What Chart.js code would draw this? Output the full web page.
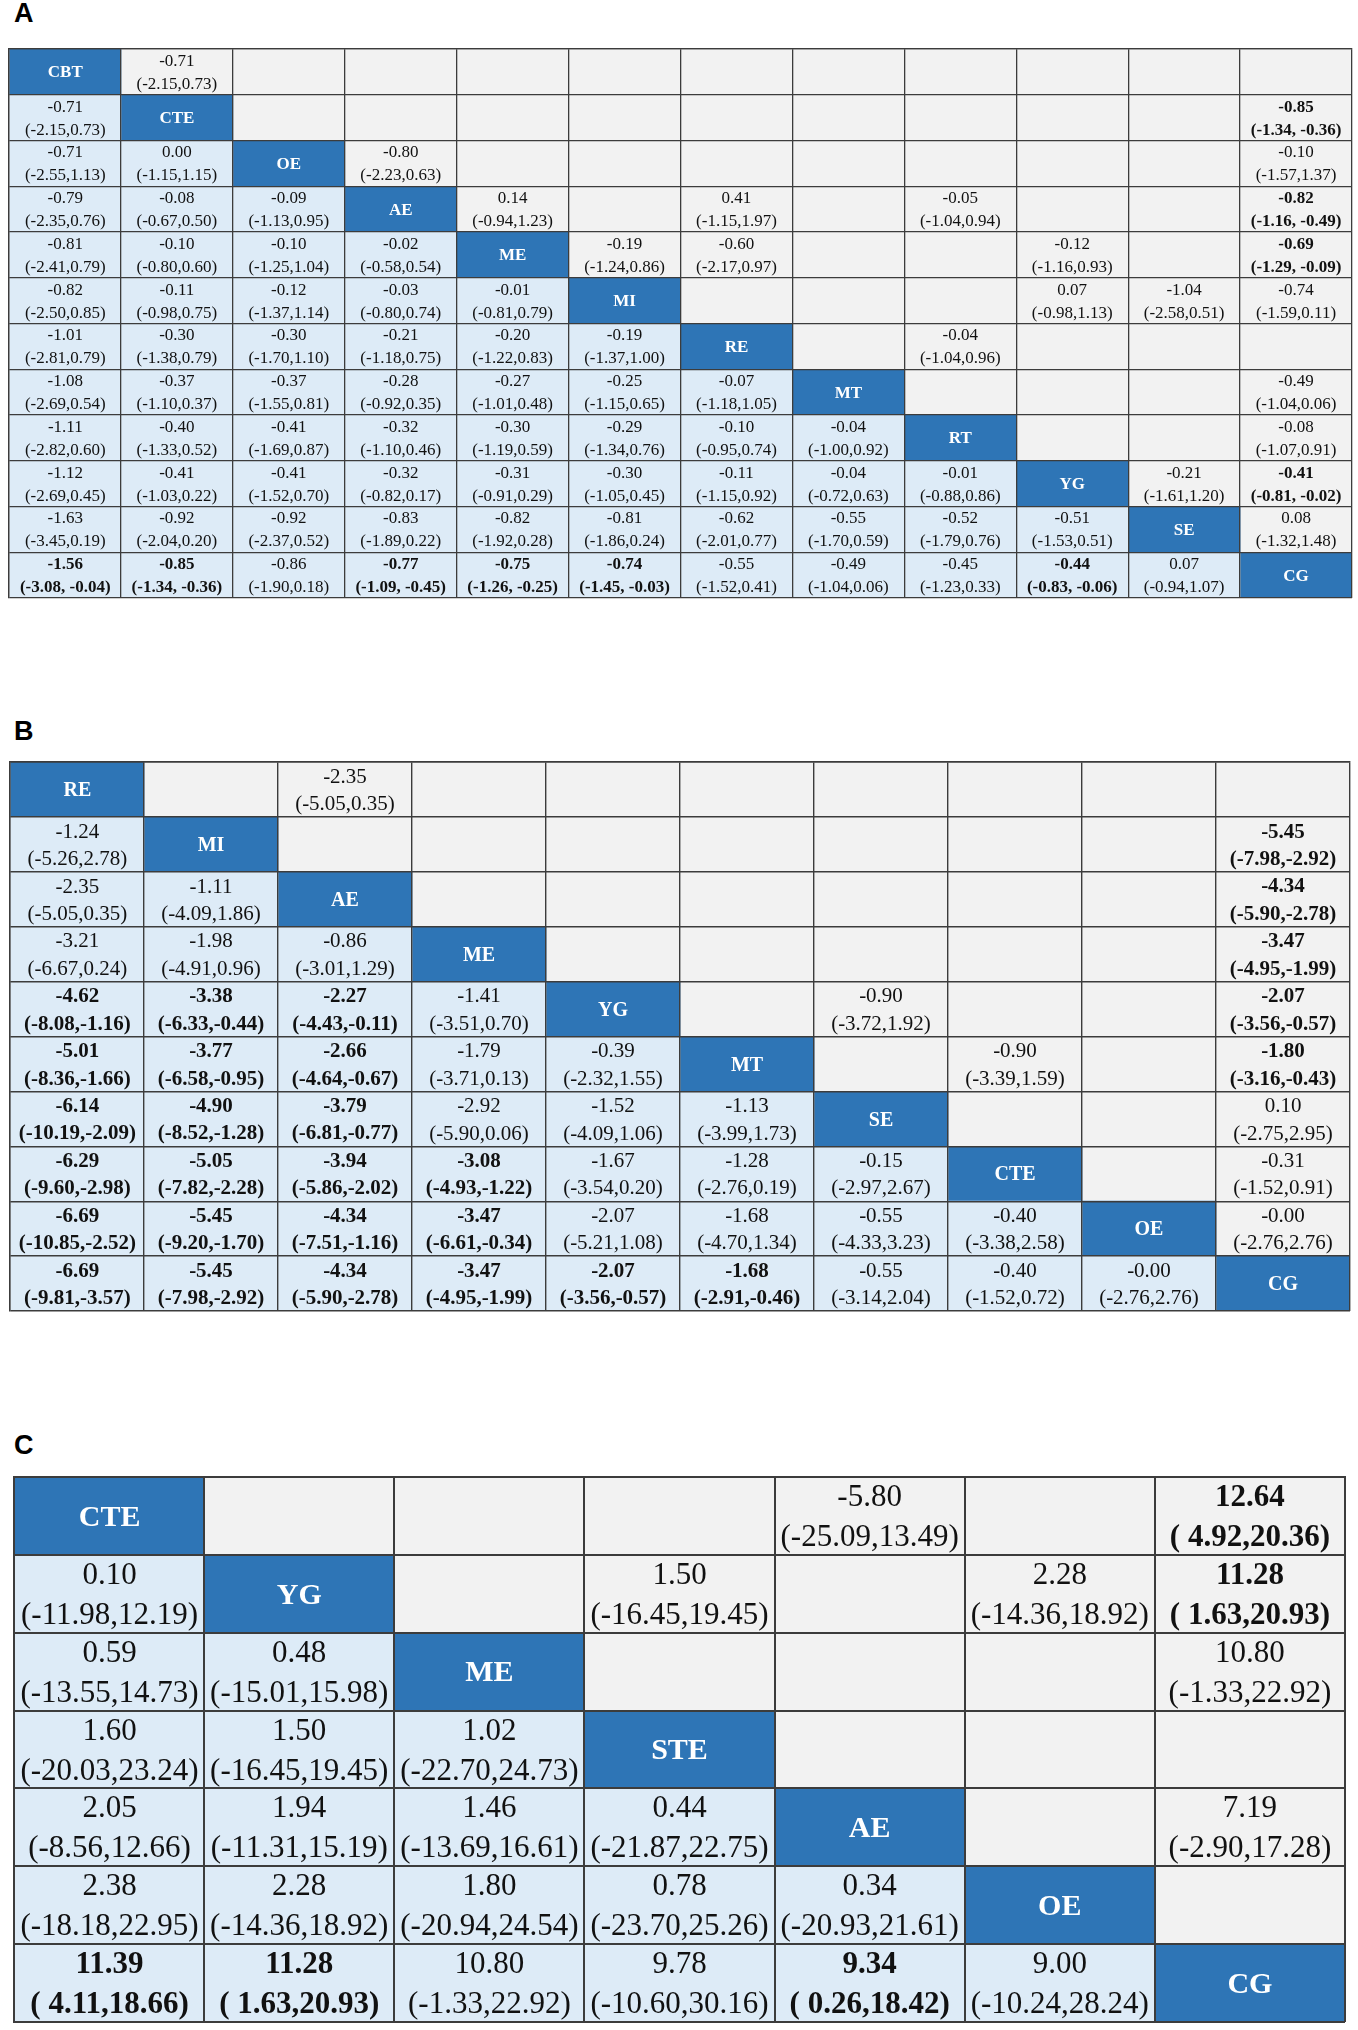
<!DOCTYPE html>
<html>
<head>
<meta charset="utf-8">
<script src="https://cdn.jsdelivr.net/npm/chart.js@4.4.1/dist/chart.umd.min.js"></script>
<style>
  html, body { margin: 0; padding: 0; background: #fff; }
  body { width: 1358px; height: 2030px; position: relative; overflow: hidden; }
  .tag { position: absolute; left: 14px; font: bold 27px "Liberation Sans", Arial, sans-serif; line-height: 27px; color: #000; }
  canvas { position: absolute; }
</style>
</head>
<body>
<div class="tag" style="top:0px">A</div>
<div class="tag" style="top:718px">B</div>
<div class="tag" style="top:1432px">C</div>
<canvas id="chartA" width="1351" height="557" style="left:5px;top:45px"></canvas>
<canvas id="chartB" width="1348" height="557" style="left:6px;top:758px"></canvas>
<canvas id="chartC" width="1339" height="553" style="left:10px;top:1473px"></canvas>
<script>
// "*" in front of an estimate = bold cell
const treatmentsA = ["CBT", "CTE", "OE", "AE", "ME", "MI", "RE", "MT", "RT", "YG", "SE", "CG"];
const lowerA = [
  [],
  [["-0.71", "(-2.15,0.73)"]],
  [["-0.71", "(-2.55,1.13)"], ["0.00", "(-1.15,1.15)"]],
  [["-0.79", "(-2.35,0.76)"], ["-0.08", "(-0.67,0.50)"], ["-0.09", "(-1.13,0.95)"]],
  [["-0.81", "(-2.41,0.79)"], ["-0.10", "(-0.80,0.60)"], ["-0.10", "(-1.25,1.04)"], ["-0.02", "(-0.58,0.54)"]],
  [["-0.82", "(-2.50,0.85)"], ["-0.11", "(-0.98,0.75)"], ["-0.12", "(-1.37,1.14)"], ["-0.03", "(-0.80,0.74)"], ["-0.01", "(-0.81,0.79)"]],
  [["-1.01", "(-2.81,0.79)"], ["-0.30", "(-1.38,0.79)"], ["-0.30", "(-1.70,1.10)"], ["-0.21", "(-1.18,0.75)"], ["-0.20", "(-1.22,0.83)"], ["-0.19", "(-1.37,1.00)"]],
  [["-1.08", "(-2.69,0.54)"], ["-0.37", "(-1.10,0.37)"], ["-0.37", "(-1.55,0.81)"], ["-0.28", "(-0.92,0.35)"], ["-0.27", "(-1.01,0.48)"], ["-0.25", "(-1.15,0.65)"], ["-0.07", "(-1.18,1.05)"]],
  [["-1.11", "(-2.82,0.60)"], ["-0.40", "(-1.33,0.52)"], ["-0.41", "(-1.69,0.87)"], ["-0.32", "(-1.10,0.46)"], ["-0.30", "(-1.19,0.59)"], ["-0.29", "(-1.34,0.76)"], ["-0.10", "(-0.95,0.74)"], ["-0.04", "(-1.00,0.92)"]],
  [["-1.12", "(-2.69,0.45)"], ["-0.41", "(-1.03,0.22)"], ["-0.41", "(-1.52,0.70)"], ["-0.32", "(-0.82,0.17)"], ["-0.31", "(-0.91,0.29)"], ["-0.30", "(-1.05,0.45)"], ["-0.11", "(-1.15,0.92)"], ["-0.04", "(-0.72,0.63)"], ["-0.01", "(-0.88,0.86)"]],
  [["-1.63", "(-3.45,0.19)"], ["-0.92", "(-2.04,0.20)"], ["-0.92", "(-2.37,0.52)"], ["-0.83", "(-1.89,0.22)"], ["-0.82", "(-1.92,0.28)"], ["-0.81", "(-1.86,0.24)"], ["-0.62", "(-2.01,0.77)"], ["-0.55", "(-1.70,0.59)"], ["-0.52", "(-1.79,0.76)"], ["-0.51", "(-1.53,0.51)"]],
  [["*-1.56", "(-3.08, -0.04)"], ["*-0.85", "(-1.34, -0.36)"], ["-0.86", "(-1.90,0.18)"], ["*-0.77", "(-1.09, -0.45)"], ["*-0.75", "(-1.26, -0.25)"], ["*-0.74", "(-1.45, -0.03)"], ["-0.55", "(-1.52,0.41)"], ["-0.49", "(-1.04,0.06)"], ["-0.45", "(-1.23,0.33)"], ["*-0.44", "(-0.83, -0.06)"], ["0.07", "(-0.94,1.07)"]],
];
// [row, col, estimate, interval]
const upperA = [
  [0, 1, "-0.71", "(-2.15,0.73)"],
  [1, 11, "*-0.85", "(-1.34, -0.36)"],
  [2, 3, "-0.80", "(-2.23,0.63)"], [2, 11, "-0.10", "(-1.57,1.37)"],
  [3, 4, "0.14", "(-0.94,1.23)"], [3, 6, "0.41", "(-1.15,1.97)"], [3, 8, "-0.05", "(-1.04,0.94)"], [3, 11, "*-0.82", "(-1.16, -0.49)"],
  [4, 5, "-0.19", "(-1.24,0.86)"], [4, 6, "-0.60", "(-2.17,0.97)"], [4, 9, "-0.12", "(-1.16,0.93)"], [4, 11, "*-0.69", "(-1.29, -0.09)"],
  [5, 9, "0.07", "(-0.98,1.13)"], [5, 10, "-1.04", "(-2.58,0.51)"], [5, 11, "-0.74", "(-1.59,0.11)"],
  [6, 8, "-0.04", "(-1.04,0.96)"],
  [7, 11, "-0.49", "(-1.04,0.06)"],
  [8, 11, "-0.08", "(-1.07,0.91)"],
  [9, 10, "-0.21", "(-1.61,1.20)"], [9, 11, "*-0.41", "(-0.81, -0.02)"],
  [10, 11, "0.08", "(-1.32,1.48)"],
];

const treatmentsB = ["RE", "MI", "AE", "ME", "YG", "MT", "SE", "CTE", "OE", "CG"];
const lowerB = [
  [],
  [["-1.24", "(-5.26,2.78)"]],
  [["-2.35", "(-5.05,0.35)"], ["-1.11", "(-4.09,1.86)"]],
  [["-3.21", "(-6.67,0.24)"], ["-1.98", "(-4.91,0.96)"], ["-0.86", "(-3.01,1.29)"]],
  [["*-4.62", "(-8.08,-1.16)"], ["*-3.38", "(-6.33,-0.44)"], ["*-2.27", "(-4.43,-0.11)"], ["-1.41", "(-3.51,0.70)"]],
  [["*-5.01", "(-8.36,-1.66)"], ["*-3.77", "(-6.58,-0.95)"], ["*-2.66", "(-4.64,-0.67)"], ["-1.79", "(-3.71,0.13)"], ["-0.39", "(-2.32,1.55)"]],
  [["*-6.14", "(-10.19,-2.09)"], ["*-4.90", "(-8.52,-1.28)"], ["*-3.79", "(-6.81,-0.77)"], ["-2.92", "(-5.90,0.06)"], ["-1.52", "(-4.09,1.06)"], ["-1.13", "(-3.99,1.73)"]],
  [["*-6.29", "(-9.60,-2.98)"], ["*-5.05", "(-7.82,-2.28)"], ["*-3.94", "(-5.86,-2.02)"], ["*-3.08", "(-4.93,-1.22)"], ["-1.67", "(-3.54,0.20)"], ["-1.28", "(-2.76,0.19)"], ["-0.15", "(-2.97,2.67)"]],
  [["*-6.69", "(-10.85,-2.52)"], ["*-5.45", "(-9.20,-1.70)"], ["*-4.34", "(-7.51,-1.16)"], ["*-3.47", "(-6.61,-0.34)"], ["-2.07", "(-5.21,1.08)"], ["-1.68", "(-4.70,1.34)"], ["-0.55", "(-4.33,3.23)"], ["-0.40", "(-3.38,2.58)"]],
  [["*-6.69", "(-9.81,-3.57)"], ["*-5.45", "(-7.98,-2.92)"], ["*-4.34", "(-5.90,-2.78)"], ["*-3.47", "(-4.95,-1.99)"], ["*-2.07", "(-3.56,-0.57)"], ["*-1.68", "(-2.91,-0.46)"], ["-0.55", "(-3.14,2.04)"], ["-0.40", "(-1.52,0.72)"], ["-0.00", "(-2.76,2.76)"]],
];
const upperB = [
  [0, 2, "-2.35", "(-5.05,0.35)"],
  [1, 9, "*-5.45", "(-7.98,-2.92)"],
  [2, 9, "*-4.34", "(-5.90,-2.78)"],
  [3, 9, "*-3.47", "(-4.95,-1.99)"],
  [4, 6, "-0.90", "(-3.72,1.92)"], [4, 9, "*-2.07", "(-3.56,-0.57)"],
  [5, 7, "-0.90", "(-3.39,1.59)"], [5, 9, "*-1.80", "(-3.16,-0.43)"],
  [6, 9, "0.10", "(-2.75,2.95)"],
  [7, 9, "-0.31", "(-1.52,0.91)"],
  [8, 9, "-0.00", "(-2.76,2.76)"],
];

const treatmentsC = ["CTE", "YG", "ME", "STE", "AE", "OE", "CG"];
const lowerC = [
  [],
  [["0.10", "(-11.98,12.19)"]],
  [["0.59", "(-13.55,14.73)"], ["0.48", "(-15.01,15.98)"]],
  [["1.60", "(-20.03,23.24)"], ["1.50", "(-16.45,19.45)"], ["1.02", "(-22.70,24.73)"]],
  [["2.05", "(-8.56,12.66)"], ["1.94", "(-11.31,15.19)"], ["1.46", "(-13.69,16.61)"], ["0.44", "(-21.87,22.75)"]],
  [["2.38", "(-18.18,22.95)"], ["2.28", "(-14.36,18.92)"], ["1.80", "(-20.94,24.54)"], ["0.78", "(-23.70,25.26)"], ["0.34", "(-20.93,21.61)"]],
  [["*11.39", "( 4.11,18.66)"], ["*11.28", "( 1.63,20.93)"], ["10.80", "(-1.33,22.92)"], ["9.78", "(-10.60,30.16)"], ["*9.34", "( 0.26,18.42)"], ["9.00", "(-10.24,28.24)"]],
];
const upperC = [
  [0, 4, "-5.80", "(-25.09,13.49)"], [0, 6, "*12.64", "( 4.92,20.36)"],
  [1, 3, "1.50", "(-16.45,19.45)"], [1, 5, "2.28", "(-14.36,18.92)"], [1, 6, "*11.28", "( 1.63,20.93)"],
  [2, 6, "10.80", "(-1.33,22.92)"],
  [4, 6, "7.19", "(-2.90,17.28)"],
];

const DIAG = "#2e75b6";
const LOWER = "#ddebf7";
const UPPER = "#f2f2f2";
const LINE = "#3c3c3c";

function cellText(lower, upper, r, c) {
  if (c < r) return lower[r][c] || null;
  const hit = upper.find((u) => u[0] === r && u[1] === c);
  return hit ? [hit[2], hit[3]] : null;
}

function drawLeague(id, treatments, lower, upper, look) {
  const n = treatments.length;
  const datasets = treatments.map((_, c) => ({
    data: treatments.map(() => [c, c + 1]),
    backgroundColor: treatments.map((_, r) => (r === c ? DIAG : r > c ? LOWER : UPPER)),
    grouped: false,
    barPercentage: 1,
    categoryPercentage: 1,
    borderWidth: 0,
  }));

  const cellLabels = {
    id: "cellLabels",
    afterDatasetsDraw(chart) {
      const ctx = chart.ctx;
      ctx.save();
      ctx.textAlign = "center";
      ctx.textBaseline = "middle";
      chart.data.datasets.forEach((ds, c) => {
        chart.getDatasetMeta(c).data.forEach((bar, r) => {
          const cx = (bar.x + bar.base) / 2;
          const cy = bar.y + look.shift;
          if (r === c) {
            ctx.fillStyle = "#fff";
            ctx.font = `bold ${look.head}px "Liberation Serif", "Times New Roman", serif`;
            ctx.fillText(treatments[r], cx, cy);
            return;
          }
          const t = cellText(lower, upper, r, c);
          if (!t) return;
          let est = t[0];
          const bold = est.startsWith("*");
          if (bold) est = est.slice(1);
          ctx.fillStyle = "#111";
          ctx.font = `${bold ? "bold " : ""}${look.size}px "Liberation Serif", "Times New Roman", serif`;
          ctx.fillText(est, cx, cy - look.gap);
          ctx.fillText(t[1], cx, cy + look.gap);
        });
      });
      ctx.restore();
    },
  };

  new Chart(document.getElementById(id), {
    type: "bar",
    data: { labels: treatments, datasets },
    options: {
      indexAxis: "y",
      responsive: false,
      animation: false,
      layout: { padding: 4 },
      plugins: { legend: { display: false }, tooltip: { enabled: false } },
      scales: {
        x: {
          type: "linear",
          position: "top",
          min: 0,
          max: n,
          ticks: { display: false, stepSize: 1 },
          grid: { z: 1, color: LINE, lineWidth: look.line, drawTicks: false },
          border: { z: 1, display: true, color: LINE, width: look.line },
        },
        y: {
          type: "category",
          ticks: { display: false },
          grid: { z: 1, offset: true, color: LINE, lineWidth: look.line, drawTicks: false },
          border: { z: 1, display: true, color: LINE, width: look.line },
        },
      },
    },
    plugins: [cellLabels],
  });
}

drawLeague("chartA", treatmentsA, lowerA, upperA, { size: 17, head: 17, gap: 11.5, shift: 1, line: 1.3 });
drawLeague("chartB", treatmentsB, lowerB, upperB, { size: 21, head: 20, gap: 13.7, shift: 1.5, line: 1.4 });
drawLeague("chartC", treatmentsC, lowerC, upperC, { size: 31, head: 30, gap: 20, shift: 2, line: 2 });
</script>
</body>
</html>
